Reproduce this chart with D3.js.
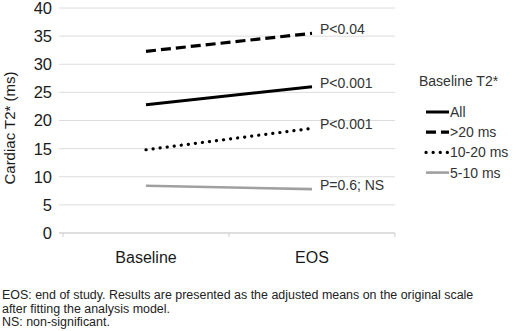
<!DOCTYPE html>
<html lang="en">
<head>
  <meta charset="UTF-8">
  <title>Cardiac T2*</title>
  <script src="https://d3js.org/d3.v7.min.js"></script>
  <style>
    body { margin: 0; background: #fff; }
    text { font-family: "Liberation Sans", Arial, sans-serif; }
  </style>
</head>
<body>
  <svg width="520" height="331"></svg>
  <script>
    // data
    const categories = ["Baseline", "EOS"]
    const seriesNames = ["All", ">20 ms", "10-20 ms", "5-10 ms"]
    const allVals = [22.8, 26.0]
    const over20Vals = [32.3, 35.5]
    const mid10to20Vals = [14.8, 18.6]
    const low5to10Vals = [8.4, 7.8]
    const pLabels = ["P<0.001", "P<0.04", "P<0.001", "P=0.6; NS"]
    const yTicks = [0, 5, 10, 15, 20, 25, 30, 35, 40]
    const footnotes = [
      "EOS: end of study. Results are presented as the adjusted means on the original scale",
      "after fitting the analysis model.",
      "NS: non-significant."
    ]

    const series = [allVals, over20Vals, mid10to20Vals, low5to10Vals]
    const styles = [
      { stroke: "#000", width: 3, dash: null, cap: "butt" },
      { stroke: "#000", width: 3.2, dash: "10,5", cap: "butt" },
      { stroke: "#000", width: 3.2, dash: "0.1,7", cap: "round" },
      { stroke: "#a0a0a0", width: 2.6, dash: null, cap: "butt" }
    ]

    const svg = d3.select("svg")
    const margin = { top: 8, left: 63, right: 125, bottom: 98 }
    const width = 520 - margin.left - margin.right
    const height = 331 - margin.top - margin.bottom

    const x = d3.scaleBand().domain(categories).range([margin.left, margin.left + width])
    const y = d3.scaleLinear().domain([0, 40]).range([margin.top + height, margin.top])

    // gridlines
    svg.append("g").selectAll("line")
      .data(yTicks)
      .enter().append("line")
      .attr("x1", margin.left - 4)
      .attr("x2", margin.left + width)
      .attr("y1", d => y(d)).attr("y2", d => y(d))
      .attr("stroke", d => d === 0 ? "#bdbdbd" : "#dcdcdc")
      .attr("stroke-width", 1)

    // y tick labels
    svg.append("g").selectAll("text")
      .data(yTicks)
      .enter().append("text")
      .attr("x", 52)
      .attr("y", d => y(d))
      .attr("dy", "0.36em")
      .attr("text-anchor", "end")
      .attr("font-size", 16.5)
      .attr("fill", "#1a1a1a")
      .text(d => d)

    // x axis ticks
    const xTickPos = [margin.left, margin.left + x.bandwidth(), margin.left + width]
    svg.append("g").selectAll("line")
      .data(xTickPos)
      .enter().append("line")
      .attr("x1", d => d).attr("x2", d => d)
      .attr("y1", y(0)).attr("y2", y(0) + 4)
      .attr("stroke", "#cfcfcf")

    svg.append("g").selectAll("text")
      .data(categories)
      .enter().append("text")
      .attr("x", d => x(d) + x.bandwidth() / 2)
      .attr("y", 263)
      .attr("text-anchor", "middle")
      .attr("font-size", 16)
      .attr("fill", "#1a1a1a")
      .text(d => d)

    // y axis title
    svg.append("text")
      .attr("transform", "translate(15,128) rotate(-90)")
      .attr("text-anchor", "middle")
      .attr("font-size", 15)
      .attr("fill", "#1a1a1a")
      .text("Cardiac T2* (ms)")

    // lines
    const line = d3.line()
      .x((d, i) => x(categories[i]) + x.bandwidth() / 2)
      .y(d => y(d))

    svg.append("g").selectAll("path")
      .data(series)
      .enter().append("path")
      .attr("d", line)
      .attr("fill", "none")
      .attr("stroke", (d, i) => styles[i].stroke)
      .attr("stroke-width", (d, i) => styles[i].width)
      .attr("stroke-dasharray", (d, i) => styles[i].dash)
      .attr("stroke-linecap", (d, i) => styles[i].cap)

    // p-value labels
    svg.append("g").selectAll("text")
      .data(series)
      .enter().append("text")
      .attr("x", x("EOS") + x.bandwidth() / 2 + 8)
      .attr("y", d => y(d[1]) - 4)
      .attr("dy", "0.36em")
      .attr("font-size", 14)
      .attr("fill", "#333")
      .text((d, i) => pLabels[i])

    // legend
    const legend = svg.append("g").attr("transform", "translate(419,0)")
    legend.append("text")
      .attr("x", 0).attr("y", 81)
      .attr("dy", "0.36em")
      .attr("font-size", 14)
      .attr("fill", "#333")
      .text("Baseline T2*")

    const item = legend.selectAll("g.item")
      .data(seriesNames)
      .enter().append("g")
      .attr("class", "item")
      .attr("transform", (d, i) => "translate(0," + (112 + i * 20.2) + ")")
    item.append("line")
      .attr("x1", 7).attr("x2", 30)
      .attr("stroke", (d, i) => styles[i].stroke)
      .attr("stroke-width", (d, i) => styles[i].width)
      .attr("stroke-dasharray", (d, i) => styles[i].dash)
      .attr("stroke-linecap", (d, i) => styles[i].cap)
    item.append("text")
      .attr("x", 31)
      .attr("dy", "0.36em")
      .attr("font-size", 14)
      .attr("fill", "#333")
      .text(d => d)

    // footnotes
    svg.append("g").selectAll("text")
      .data(footnotes)
      .enter().append("text")
      .attr("x", 2)
      .attr("y", (d, i) => 299 + i * 13.7)
      .attr("font-size", 12.45)
      .attr("fill", "#222")
      .text(d => d)
  </script>
</body>
</html>
